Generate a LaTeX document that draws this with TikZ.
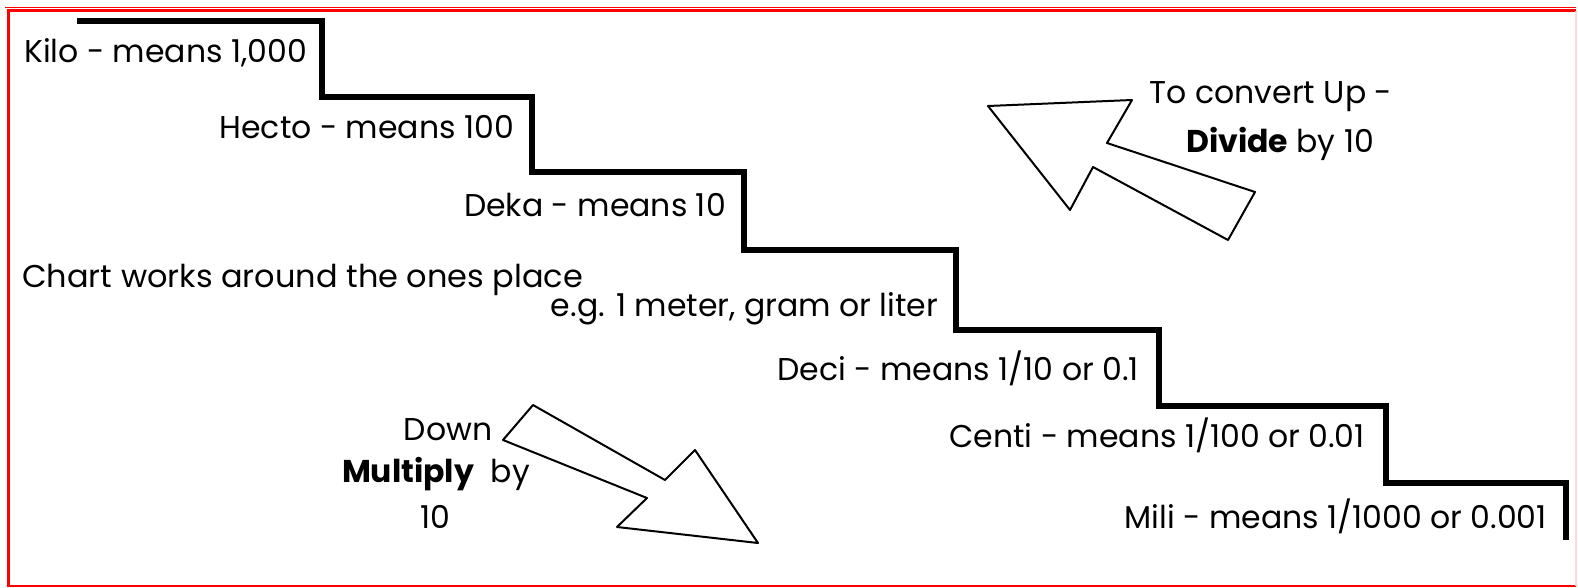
\documentclass[tikz,border=0pt]{standalone}
\usepackage{fontspec}
\setmainfont{Poppins}
\begin{document}
\begin{tikzpicture}[x=1pt,y=-1pt,
  lbl/.style={inner sep=0pt,font=\fontsize{31.5}{38}\selectfont},
  stair/.style={line width=6pt,line join=miter,black},
  bigarrow/.style={line width=2pt,line join=round,black}]
\useasboundingbox (0,0) rectangle (1578,587);
% frame
\draw[red,line width=2.5pt] (1576,586) -- (8.5,586) -- (8.5,10.5) -- (1576,10.5);
\draw[red,line width=1pt] (5,7) -- (1576,7);
\draw[red!15,line width=1.5pt] (1576,10.5) -- (1576,586);
% staircase
\coordinate (s0) at (77,21);
\coordinate (s1) at (1566,540);
\draw[stair] (s0) -- (322,21) |- (532,97) |- (744,172) |- (956,250) |- (1159,330) |- (1386,406) |- (1566,483) -- (s1);
% labels
\node[lbl,anchor=base east] (kilo) at (307,62) {Kilo - means 1,000};
\node[lbl,anchor=base east] (hecto) at (514,138) {Hecto - means 100};
\node[lbl,anchor=base east] (deka) at (726,216) {Deka - means 10};
\node[lbl,anchor=base west,xscale=1.015] (chart) at (22,287) {Chart works around the ones place};
\node[lbl,anchor=base east] (eg) at (938,316) {e.g. 1 meter, gram or liter};
\node[lbl,anchor=base east] (deci) at (1139,380) {Deci - means 1/10 or 0.1};
\node[lbl,anchor=base east] (centi) at (1365,447) {Centi - means 1/100 or 0.01};
\node[lbl,anchor=base east] (mili) at (1547,528) {Mili - means 1/1000 or 0.001};
\node[lbl,anchor=base] (up1) at (1271,103) {To convert Up -};
\node[lbl,anchor=base] (up2) at (1280,152) {\textbf{Divide} by 10};
\node[lbl,anchor=base] (dn1) at (448,440) {Down};
\node[lbl,anchor=base] (dn2) at (436,482) {\textbf{Multiply}\ \ by};
\node[lbl,anchor=base] (dn3) at (435,528) {10};
% up arrow
\draw[bigarrow] (988,106) -- (1132,100) -- (1107,143) -- (1255,192) -- (1228,240) -- (1093,167) -- (1070,210) -- cycle;
% down arrow
\draw[bigarrow] (503,440) -- (533,405) -- (665,480) -- (695,450) -- (758,543) -- (617,527) -- (647,498) -- cycle;
\end{tikzpicture}
\end{document}
